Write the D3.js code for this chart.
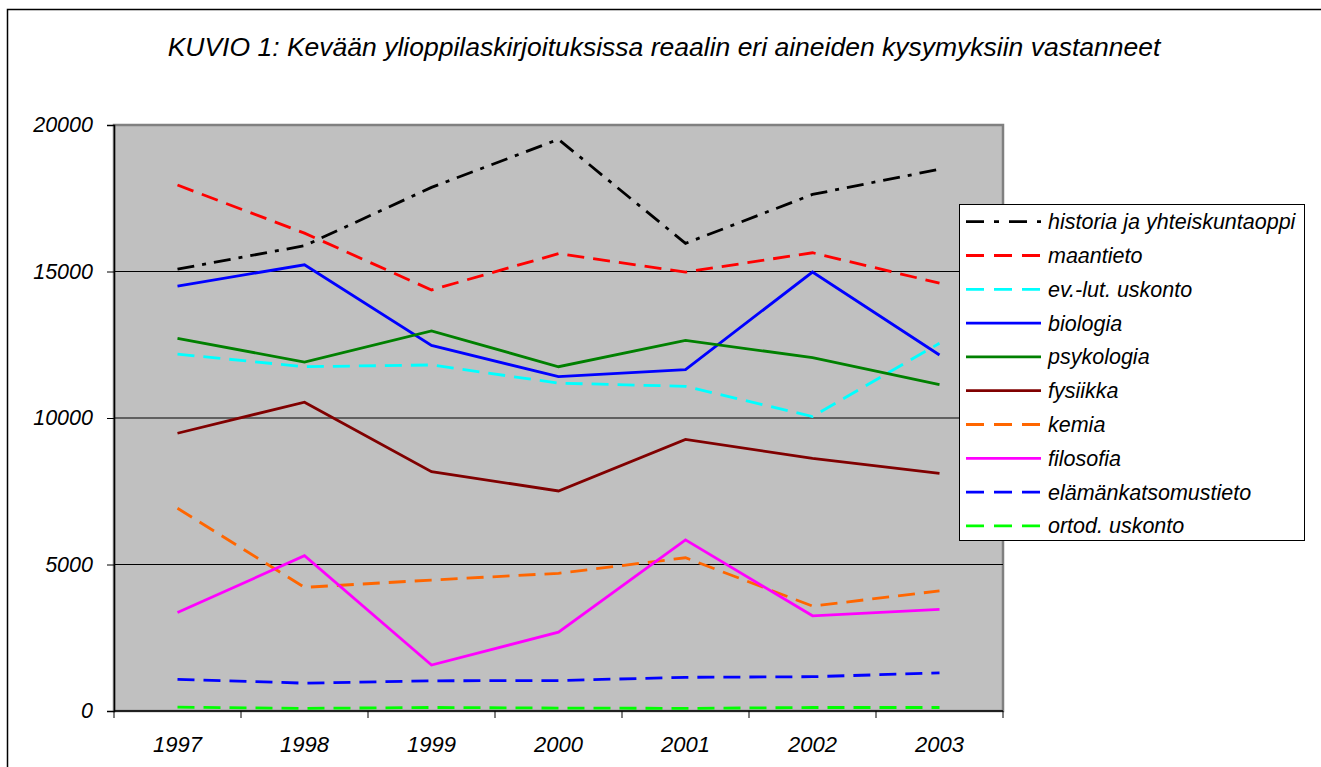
<!DOCTYPE html>
<html>
<head>
<meta charset="utf-8">
<script src="https://cdn.jsdelivr.net/npm/d3@7"></script>
<style>
  body { margin: 0; background: #fff; }
  svg text { font-family: "Liberation Sans", Arial, sans-serif; font-style: italic; fill: #000; }
</style>
</head>
<body>
<svg width="1321" height="767"></svg>
<script>
// chart data
var years = ["1997", "1998", "1999", "2000", "2001", "2002", "2003"];
var yTicks = [0, 5000, 10000, 15000, 20000];

var seriesNames = ["historia ja yhteiskuntaoppi", "maantieto", "ev.-lut. uskonto", "biologia",
  "psykologia", "fysiikka", "kemia", "filosofia", "elämänkatsomustieto", "ortod. uskonto"];

var historia   = [15080, 15880, 17870, 19510, 15960, 17630, 18490];
var maantieto  = [17950, 16310, 14370, 15610, 14980, 15640, 14600];
var evlut      = [12180, 11750, 11810, 11190, 11080, 10050, 12550];
var biologia   = [14500, 15230, 12480, 11410, 11650, 14980, 12150];
var psykologia = [12720, 11910, 12970, 11750, 12650, 12060, 11140];
var fysiikka   = [9480, 10540, 8170, 7510, 9270, 8620, 8110];
var kemia      = [6920, 4220, 4470, 4700, 5230, 3580, 4100];
var filosofia  = [3360, 5300, 1570, 2690, 5840, 3250, 3470];
var elamank    = [1080, 950, 1030, 1040, 1150, 1170, 1300];
var ortod      = [130, 90, 120, 100, 90, 120, 120];

var seriesValues = [historia, maantieto, evlut, biologia, psykologia, fysiikka, kemia, filosofia, elamank, ortod];
var seriesColors = ["#000000", "#ff0000", "#00ffff", "#0000ff", "#008000", "#800000", "#ff6600", "#ff00ff", "#0000ff", "#00ff00"];
var seriesDash = ["17,8,4,8", "17,9", "17,9", null, null, null, "17,9", null, "17,9", "17,9"];

var svg = d3.select("svg");

// outer frame of the chart object
svg.append("rect")
  .attr("x", 7.5).attr("y", 9.5)
  .attr("width", 1330).attr("height", 800)
  .attr("fill", "#fff").attr("stroke", "#000").attr("stroke-width", 1.5);

svg.append("text")
  .attr("x", 664).attr("y", 56)
  .attr("text-anchor", "middle")
  .style("font-size", "26.5px")
  .text("KUVIO 1: Kevään ylioppilaskirjoituksissa reaalin eri aineiden kysymyksiin vastanneet");

var plot = {left: 114, top: 125, right: 1003, bottom: 711};

var x = d3.scaleBand().domain(years).range([plot.left, plot.right]).padding(0);
var y = d3.scaleLinear().domain([0, 20000]).range([plot.bottom, plot.top]);

svg.append("rect")
  .attr("x", plot.left).attr("y", plot.top)
  .attr("width", plot.right - plot.left).attr("height", plot.bottom - plot.top)
  .attr("fill", "#c0c0c0").attr("stroke", "#808080").attr("stroke-width", 2.5);

// gridlines
svg.append("g")
  .selectAll("line")
  .data(yTicks.filter(function(t) { return t > 0 && t < 20000; }))
  .enter()
  .append("line")
  .attr("x1", plot.left).attr("x2", plot.right)
  .attr("y1", function(d) { return y(d); })
  .attr("y2", function(d) { return y(d); })
  .attr("stroke", "#000").attr("stroke-width", 1);

// y axis
var yAxis = svg.append("g")
  .attr("transform", "translate(" + plot.left + ",0)")
  .call(d3.axisLeft(y).tickValues(yTicks).tickSize(7).tickPadding(14).tickFormat(d3.format("d")));
yAxis.select(".domain").attr("stroke", "#000").attr("stroke-width", 1.5);
yAxis.selectAll(".tick line").attr("stroke", "#000");
yAxis.selectAll(".tick text")
  .style("font-size", "21.5px")
  .attr("font-family", null);

// x axis: ticks at band edges, labels at band centers
var xAxis = svg.append("g");
xAxis.append("line")
  .attr("x1", plot.left).attr("x2", plot.right)
  .attr("y1", plot.bottom).attr("y2", plot.bottom)
  .attr("stroke", "#000").attr("stroke-width", 1.5);
var edges = years.map(function(d) { return x(d); }).concat([x.range()[1]]);
xAxis.selectAll(".xtick")
  .data(edges)
  .enter()
  .append("line")
  .attr("class", "xtick")
  .attr("x1", function(d) { return d; }).attr("x2", function(d) { return d; })
  .attr("y1", plot.bottom).attr("y2", plot.bottom + 7)
  .attr("stroke", "#000");
xAxis.selectAll(".xlabel")
  .data(years)
  .enter()
  .append("text")
  .attr("class", "xlabel")
  .attr("x", function(d) { return x(d) + x.bandwidth() / 2; })
  .attr("y", 752)
  .attr("text-anchor", "middle")
  .style("font-size", "22px")
  .text(function(d) { return d; });

// series lines
var line = d3.line()
  .x(function(d, i) { return x(years[i]) + x.bandwidth() / 2; })
  .y(function(d) { return y(d); });

var series = seriesNames.map(function(name, i) {
  return {name: name, values: seriesValues[i], color: seriesColors[i], dash: seriesDash[i]};
});

svg.append("g")
  .selectAll("path")
  .data(series)
  .enter()
  .append("path")
  .attr("d", function(d) { return line(d.values); })
  .attr("fill", "none")
  .attr("stroke", function(d) { return d.color; })
  .attr("stroke-width", 2.8)
  .attr("stroke-dasharray", function(d) { return d.dash; });

// legend
var legend = svg.append("g");
legend.append("rect")
  .attr("x", 959.5).attr("y", 204.5)
  .attr("width", 345).attr("height", 336)
  .attr("fill", "#fff").attr("stroke", "#000").attr("stroke-width", 1);

var items = legend.selectAll(".item")
  .data(series)
  .enter()
  .append("g")
  .attr("class", "item")
  .attr("transform", function(d, i) { return "translate(0," + (221.7 + i * 33.8) + ")"; });

items.append("line")
  .attr("x1", 966).attr("x2", 1041)
  .attr("y1", 0).attr("y2", 0)
  .attr("stroke", function(d) { return d.color; })
  .attr("stroke-width", 2.8)
  .attr("stroke-dasharray", function(d) { return d.dash ? "18,10" + (d.dash.split(",").length > 2 ? ",5,10" : "") : null; });

items.append("text")
  .attr("x", 1048).attr("y", 0)
  .attr("dy", "0.35em")
  .style("font-size", "21.5px")
  .text(function(d) { return d.name; });
</script>
</body>
</html>
